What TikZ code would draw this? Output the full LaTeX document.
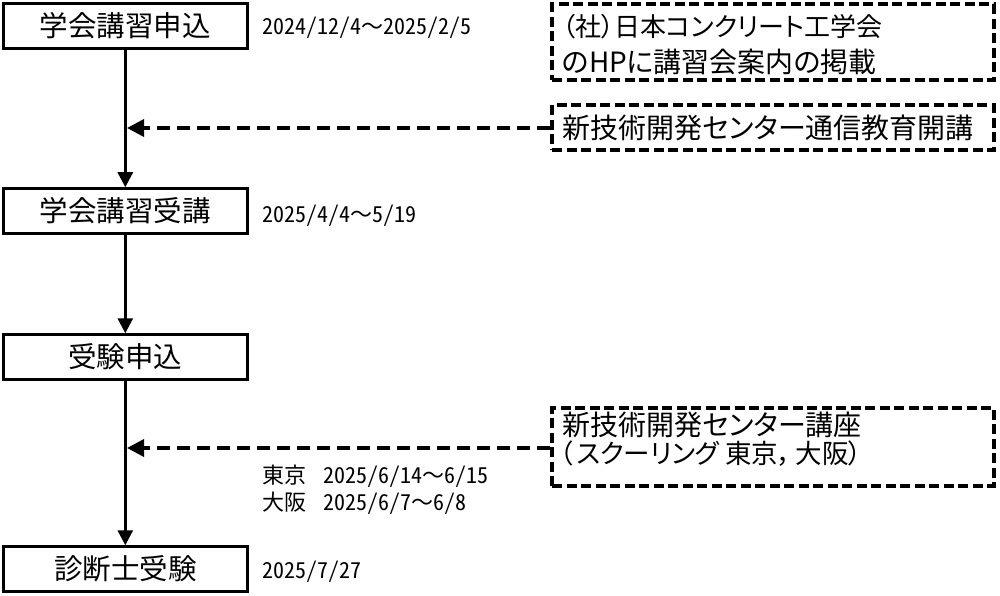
\documentclass[tikz,border=0pt]{standalone}
\usepackage{fontspec}
\usetikzlibrary{arrows.meta}
\newfontfamily\jp{Noto Sans CJK JP}
\newfontfamily\jpp[RawFeature=+palt]{Noto Sans CJK JP}
\newfontfamily\jpd[RawFeature=+hwid]{Noto Sans CJK JP}
\newcommand{\wv}{{\jp ～}}
\begin{document}
\begin{tikzpicture}[x=1pt,y=-1pt,
  mainbox/.style={draw,line width=2.5pt,minimum width=244pt,minimum height=45pt,inner sep=0pt,font=\jp\fontsize{28.5}{30}\selectfont},
  dbox/.style={draw,line width=4pt,dash pattern=on 10pt off 4.5pt,inner sep=0pt,minimum width=441.5pt},
  boxtext/.style={anchor=west,inner sep=0pt,font=\jpp\fontsize{28}{30}\selectfont},
  datetext/.style={anchor=base west,inner sep=0pt,font=\jpd\fontsize{22}{24}\selectfont},
  flow/.style={line width=2.8pt,-{Triangle[width=15pt,length=15pt]}},
  feed/.style={line width=3.5pt,dash pattern=on 13pt off 7pt,-{Triangle[width=17pt,length=17pt]}}
]
\useasboundingbox (0,0) rectangle (1000,596);
% main flow boxes
\node[mainbox] (b1) at (125.3,25.8) {学会講習申込};
\node[mainbox] (b2) at (125.3,211) {学会講習受講};
\node[mainbox] (b3) at (125.3,357) {受験申込};
\node[mainbox] (b4) at (125.3,569) {診断士受験};
\draw[flow] (b1) -- (b2);
\draw[flow] (b2) -- (b3);
\draw[flow] (b3) -- (b4);
% dates
\node[datetext] (d1) at (262,35) {2024/12/4\wv 2025/2/5};
\node[datetext] (d2) at (262,222) {2025/4/4\wv 5/19};
\node[datetext] (d3) at (262,483) {東京\hspace{17pt}2025/6/14\wv 6/15};
\node[datetext] (d4) at (262,510) {大阪\hspace{17pt}2025/6/7\wv 6/8};
\node[datetext] (d5) at (262,578) {2025/7/27};
% dashed info boxes
\node[dbox,minimum height=76pt] (r1) at (773,42.5) {};
\node[boxtext,font=\jpp\fontsize{26}{30}\selectfont] (r1a) at (562,27) {（社）日本コンクリート工学会};
\node[boxtext,font=\jpp\fontsize{27.9}{30}\selectfont] (r1b) at (562,62) {のHPに講習会案内の掲載};
\node[dbox,minimum height=45pt] (r2) at (773,128) {};
\node[boxtext] (r2a) at (562,128) {新技術開発センター通信教育開講};
\node[dbox,minimum height=78pt] (r3) at (773,446.5) {};
\node[boxtext] (r3a) at (562,425) {新技術開発センター講座};
\node[boxtext,font=\jpp\fontsize{26.5}{30}\selectfont] (r3b) at (560,454) {（\hspace{3pt}スクーリング 東京，\hspace{4pt}大阪）};
% feed arrows
\coordinate (t1) at (127,128);
\coordinate (t2) at (127,448);
\draw[feed] (r2.west) -- (t1);
\draw[feed] (r3.west |- t2) -- (t2);
\end{tikzpicture}
\end{document}
